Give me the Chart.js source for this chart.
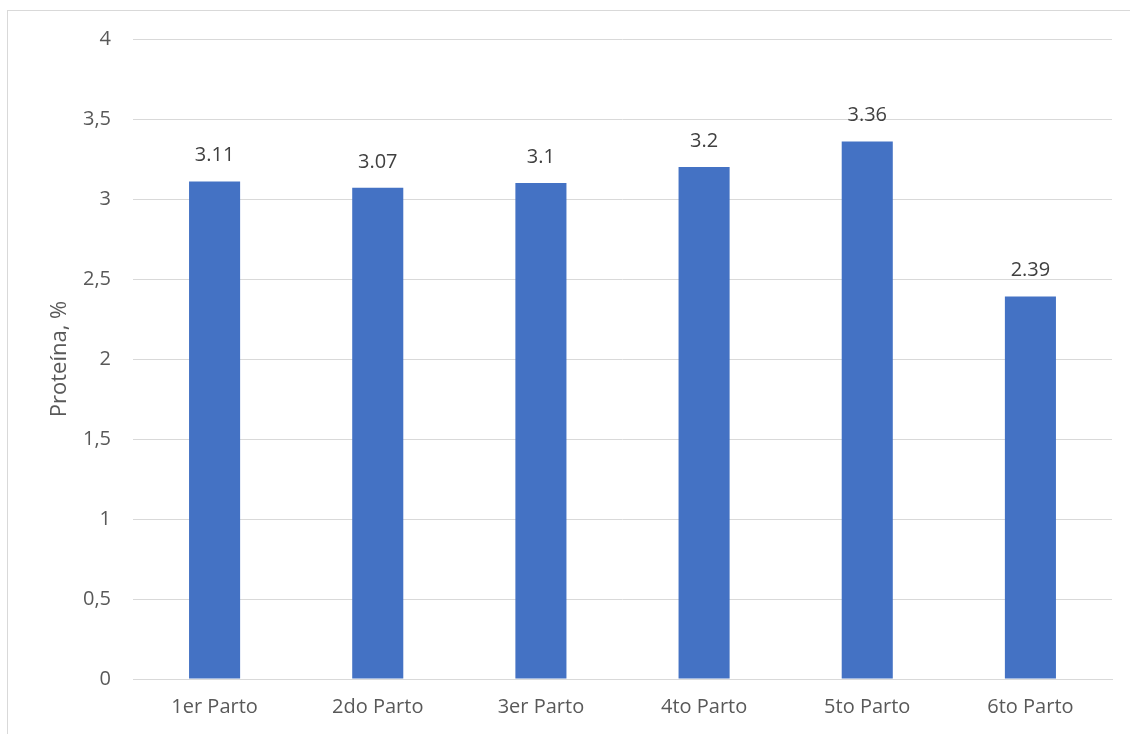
<!DOCTYPE html>
<html>
<head>
<meta charset="utf-8">
<script src="https://cdn.jsdelivr.net/npm/chart.js@4/dist/chart.umd.min.js"></script>
<style>
  html, body { margin: 0; padding: 0; background: #fff; }
  #wrap { position: relative; width: 1130px; height: 734px; overflow: hidden; }
  #frame { position: absolute; left: 7px; top: 10px; width: 1200px; height: 800px; border: 1px solid #d9d9d9; box-sizing: border-box; }
  canvas { position: absolute; left: 0; top: 0; }
</style>
</head>
<body>
<div id="wrap">
  <div id="frame"></div>
  <canvas id="chart" width="1130" height="734"></canvas>
</div>
<script>
const categories = ['1er Parto', '2do Parto', '3er Parto', '4to Parto', '5to Parto', '6to Parto'];
const proteina = [3.11, 3.07, 3.1, 3.2, 3.36, 2.39];
const valueLabels = ['3.11', '3.07', '3.1', '3.2', '3.36', '2.39'];

const FONT = "'Open Sans', 'Noto Sans', sans-serif";
const GREY = '#595959';

// numbers above the bars
const barLabels = {
  id: 'barLabels',
  afterDatasetsDraw(chart) {
    const ctx = chart.ctx;
    const meta = chart.getDatasetMeta(0);
    ctx.save();
    ctx.font = `20px ${FONT}`;
    ctx.fillStyle = '#404040';
    ctx.textAlign = 'center';
    ctx.textBaseline = 'middle';
    meta.data.forEach((bar, i) => {
      ctx.fillText(valueLabels[i], bar.x, bar.y - 26);
    });
    ctx.restore();
  }
};

new Chart(document.getElementById('chart').getContext('2d'), {
  type: 'bar',
  data: {
    labels: categories,
    datasets: [{
      data: proteina,
      backgroundColor: '#4472c4',
      borderWidth: 0,
      categoryPercentage: 1,
      barPercentage: 0.313
    }]
  },
  options: {
    responsive: false,
    animation: false,
    layout: { padding: { left: 0, right: 18, top: 39, bottom: 0 } },
    plugins: { legend: { display: false }, tooltip: { enabled: false } },
    scales: {
      x: {
        grid: { display: false },
        border: { display: true, color: '#d9d9d9', width: 1 },
        ticks: { color: GREY, font: { family: FONT, size: 20 }, padding: 8 },
        afterFit(s) { s.height = 55; }
      },
      y: {
        min: 0,
        max: 4,
        ticks: {
          stepSize: 0.5,
          color: GREY,
          padding: 22,
          font: { family: FONT, size: 20 },
          callback: (v) => String(v).replace('.', ',')
        },
        grid: { color: '#d9d9d9', drawTicks: false },
        border: { display: false },
        title: {
          display: true,
          text: 'Proteína, %',
          color: GREY,
          font: { family: FONT, size: 22 },
          padding: { top: 47, bottom: 0 }
        },
        afterFit(s) { s.width = 133; }
      }
    }
  },
  plugins: [barLabels]
});
</script>
</body>
</html>
